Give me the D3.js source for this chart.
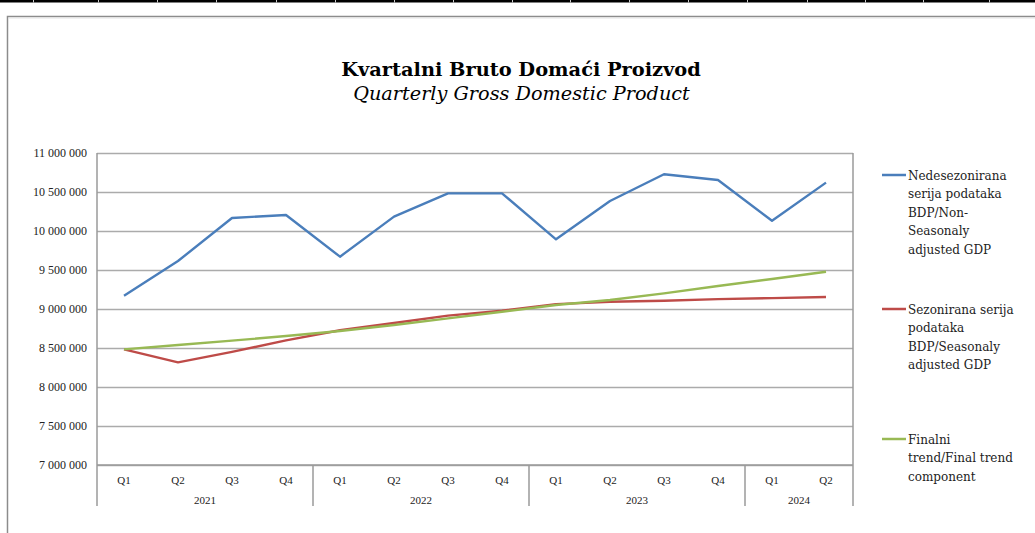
<!DOCTYPE html>
<html>
<head>
<meta charset="utf-8">
<script src="https://cdn.jsdelivr.net/npm/d3@7"></script>
<style>
  body { margin: 0; background: #fff; }
  svg { display: block; }
  .grid line { stroke: #ababab; stroke-width: 1.5; }
  .yAxis text, .xAxis text { font-family: "Liberation Serif", serif; fill: #222; }
  .leyenda text { font-family: "DejaVu Serif", serif; font-size: 12px; fill: #222; }
</style>
</head>
<body>
<div id="chart"></div>
<script>
// Datos
const years = ["2021", "2022", "2023", "2024"]
const quarters = ["Q1", "Q2", "Q3", "Q4", "Q1", "Q2", "Q3", "Q4", "Q1", "Q2", "Q3", "Q4", "Q1", "Q2"]
const quarterYear = [0, 0, 0, 0, 1, 1, 1, 1, 2, 2, 2, 2, 3, 3]
const nonSeasonal = [9171000, 9615000, 10167000, 10205000, 9671000, 10184000, 10483000, 10483000, 9893000, 10385000, 10727000, 10654000, 10132000, 10620000]
const seasonal = [8483000, 8316000, 8450000, 8598000, 8728000, 8820000, 8915000, 8978000, 9062000, 9092000, 9105000, 9126000, 9140000, 9154000]
const trend = [8483000, 8538000, 8594000, 8654000, 8718000, 8795000, 8880000, 8965000, 9051000, 9115000, 9200000, 9295000, 9385000, 9478000]
const yTicks = [7000000, 7500000, 8000000, 8500000, 9000000, 9500000, 10000000, 10500000, 11000000]
const seriesNames = [
    ["Nedesezonirana", "serija podataka", "BDP/Non-", "Seasonaly", "adjusted GDP"],
    ["Sezonirana serija", "podataka", "BDP/Seasonaly", "adjusted GDP"],
    ["Finalni", "trend/Final trend", "component"]
]
const colores = ["#4a7ebb", "#be4b48", "#98b954"]

//Constantes
const width = 1035
const height = 533
const plot = { left: 97, right: 853, top: 153, bottom: 465, catBottom: 506 }

const svg = d3.select("#chart")
    .append("svg")
    .attr("width", width)
    .attr("height", height)

// barra negra arriba
svg.append("rect").attr("x", 0).attr("y", 0).attr("width", width).attr("height", 2.5).attr("fill", "#000")
const gaps = [33, 98, 157, 216, 276, 335, 394, 453, 512, 570, 629, 688, 747, 807, 865, 923, 989]
svg.selectAll(".gap").data(gaps).enter().append("rect")
    .attr("x", d => d).attr("y", 0).attr("width", 1).attr("height", 2.5).attr("fill", "#ccc")

// marco
svg.append("path")
    .attr("d", `M7.5,${height} V16.5 H${width}`)
    .attr("fill", "none").attr("stroke", "#8c8c8c").attr("stroke-width", 1.5)
svg.append("path")
    .attr("d", `M8.5,${height} V18 H${width}`)
    .attr("fill", "none").attr("stroke", "#e4e4e4").attr("stroke-width", 1)

// titulo
const title = svg.append("text")
    .attr("x", 521).attr("y", 76)
    .attr("text-anchor", "middle")
    .style("font-family", "DejaVu Serif, serif").style("font-weight", "bold").style("font-size", "20px")
    .attr("fill", "#000")
    .text("Kvartalni Bruto Domaći Proizvod")
title.style("font-size", (20 * 360 / title.node().getComputedTextLength()) + "px")
const subtitle = svg.append("text")
    .attr("x", 521.5).attr("y", 100)
    .attr("text-anchor", "middle")
    .style("font-family", "DejaVu Serif, serif").style("font-style", "italic").style("font-size", "20px")
    .attr("fill", "#000")
    .text("Quarterly Gross Domestic Product")
subtitle.style("font-size", (20 * 337 / subtitle.node().getComputedTextLength()) + "px")

//Escalas
const x = d3.scaleBand().domain(d3.range(quarters.length)).range([plot.left, plot.right])
const y = d3.scaleLinear().domain([7000000, 11000000]).range([plot.bottom, plot.top])
const fmt = d => d3.format(",")(d).replace(/,/g, " ")

// eje y + grid
const yAxisGroup = svg.append("g")
    .attr("class", "yAxis grid")
    .attr("transform", `translate(${plot.left}, 0)`)
    .call(d3.axisLeft(y).tickValues(yTicks).tickFormat(fmt).tickSize(-(plot.right - plot.left)).tickPadding(10))
yAxisGroup.select(".domain").remove()
yAxisGroup.selectAll("text").style("font-size", "12px")

// bordes del area
const ejes = svg.append("g").attr("stroke", "#9a9a9a").attr("stroke-width", 1.5)
ejes.append("line").attr("x1", plot.left).attr("x2", plot.left).attr("y1", plot.top).attr("y2", plot.catBottom)
ejes.append("line").attr("x1", plot.right).attr("x2", plot.right).attr("y1", plot.top).attr("y2", plot.bottom)
ejes.append("line").attr("x1", plot.left).attr("x2", plot.right).attr("y1", plot.bottom).attr("y2", plot.bottom)

// eje x (trimestres)
const xAxisGroup = svg.append("g")
    .attr("class", "xAxis")
    .attr("transform", `translate(0, ${plot.bottom})`)
    .call(d3.axisBottom(x).tickFormat(i => quarters[i]).tickSize(0).tickPadding(11))
xAxisGroup.select(".domain").remove()
xAxisGroup.selectAll("text").style("font-size", "11px")

// separadores de años
const yearIdx = years.map((yr, k) => quarterYear.map((q, i) => q === k ? i : -1).filter(i => i >= 0))
const yearBounds = yearIdx.map(ids => [x(ids[0]), x(ids[ids.length - 1]) + x.bandwidth()])
ejes.selectAll(".sep").data(yearBounds.map(b => b[1]))
    .enter().append("line")
    .attr("x1", d => d).attr("x2", d => d)
    .attr("y1", plot.bottom).attr("y2", plot.catBottom)
svg.append("g").attr("class", "xAxis").selectAll("text").data(years).enter().append("text")
    .attr("x", (d, k) => (yearBounds[k][0] + yearBounds[k][1]) / 2)
    .attr("y", 504)
    .attr("text-anchor", "middle")
    .style("font-size", "11px")
    .text(d => d)

// lineas
const linea = d3.line().x((d, i) => x(i) + x.bandwidth() / 2).y(d => y(d))
const series = [nonSeasonal, seasonal, trend]
svg.append("g").selectAll("path").data(series).enter().append("path")
    .attr("d", linea)
    .attr("fill", "none")
    .attr("stroke", (d, i) => colores[i])
    .attr("stroke-width", 2.4)
    .attr("stroke-linejoin", "round")

// leyenda
const legendY = [175, 309, 439]
const leyenda = svg.append("g").attr("class", "leyenda")
const items = leyenda.selectAll("g").data(seriesNames).enter().append("g")
    .attr("transform", (d, i) => `translate(882, ${legendY[i]})`)
items.append("line")
    .attr("x1", 0).attr("x2", 24).attr("y1", 0).attr("y2", 0)
    .attr("stroke", (d, i) => colores[i]).attr("stroke-width", 2.5)
items.append("text")
    .attr("x", 26).attr("y", 0)
    .selectAll("tspan").data(d => d).enter().append("tspan")
    .attr("x", 26)
    .attr("y", (d, j) => 4.5 + j * 18.6)
    .text(d => d)
</script>
</body>
</html>
